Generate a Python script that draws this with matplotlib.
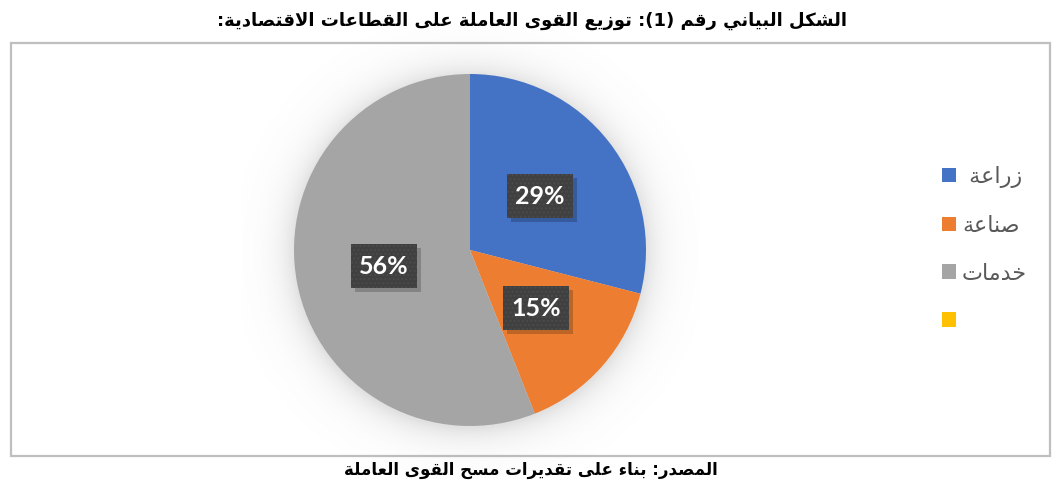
import numpy as np
import matplotlib
matplotlib.use("Agg")
import matplotlib.pyplot as plt
from matplotlib.patches import Rectangle

# ---- data -------------------------------------------------------------
sectors = ["زراعة ", "صناعة", "خدمات", ""]
shares = [29, 15, 56, 0]
colors = ["#4472C4", "#ED7D31", "#A5A5A5", "#FFC000"]
title_text = "الشكل البياني رقم (1): توزيع القوى العاملة على القطاعات الاقتصادية:"
source_text = "المصدر: بناء على تقديرات مسح القوى العاملة"

# ---- minimal Arabic shaping + right-to-left ordering --------------------
_DUAL = {'ئ': 0xFE89, 'ب': 0xFE8F, 'ت': 0xFE95, 'ث': 0xFE99, 'ج': 0xFE9D,
         'ح': 0xFEA1, 'خ': 0xFEA5, 'س': 0xFEB1, 'ش': 0xFEB5, 'ص': 0xFEB9,
         'ض': 0xFEBD, 'ط': 0xFEC1, 'ظ': 0xFEC5, 'ع': 0xFEC9, 'غ': 0xFECD,
         'ف': 0xFED1, 'ق': 0xFED5, 'ك': 0xFED9, 'ل': 0xFEDD, 'م': 0xFEE1,
         'ن': 0xFEE5, 'ه': 0xFEE9, 'ي': 0xFEF1}
_RIGHT = {'آ': 0xFE81, 'أ': 0xFE83, 'ؤ': 0xFE85, 'إ': 0xFE87, 'ا': 0xFE8D,
          'ة': 0xFE93, 'د': 0xFEA9, 'ذ': 0xFEAB, 'ر': 0xFEAD, 'ز': 0xFEAF,
          'و': 0xFEED, 'ى': 0xFEEF}
_NONE = {'ء': 0xFE80}
_LAMALEF = {'ا': 0xFEFB, 'أ': 0xFEF7, 'إ': 0xFEF9, 'آ': 0xFEF5}
_MIRROR = {'(': ')', ')': '(', '[': ']', ']': '['}


def _jtype(tok):
    if tok in _DUAL:
        return 'D'
    if tok in _RIGHT or tok.startswith('LA'):
        return 'R'
    if tok in _NONE:
        return 'N'
    return 'U'


def arabic(text):
    toks = []
    i = 0
    while i < len(text):
        c = text[i]
        if c == 'ل' and i + 1 < len(text) and text[i + 1] in _LAMALEF:
            toks.append('LA' + text[i + 1])
            i += 2
            continue
        toks.append(c)
        i += 1
    out = []
    for k, t in enumerate(toks):
        jt = _jtype(t)
        prev_t = _jtype(toks[k - 1]) if k > 0 else 'U'
        next_t = _jtype(toks[k + 1]) if k + 1 < len(toks) else 'U'
        jp = prev_t == 'D' and jt in 'DR'
        jn = jt == 'D' and next_t in 'DR'
        if t.startswith('LA'):
            out.append(chr(_LAMALEF[t[2]] + (1 if jp else 0)))
        elif jt == 'D':
            off = 3 if (jp and jn) else 1 if jp else 2 if jn else 0
            out.append(chr(_DUAL[t] + off))
        elif jt == 'R':
            out.append(chr(_RIGHT[t] + (1 if jp else 0)))
        elif jt == 'N':
            out.append(chr(_NONE[t]))
        else:
            out.append(t)
    return ''.join(_MIRROR.get(c, c) for c in reversed(out))


# ---- figure -----------------------------------------------------------
W, H, DPI = 1057, 493, 100
fig = plt.figure(figsize=(W / DPI, H / DPI), dpi=DPI, facecolor="white")

# chart frame
fig.add_artist(Rectangle((11 / W, (H - 456) / H), 1039 / W, 413 / H,
                         transform=fig.transFigure, facecolor="white",
                         edgecolor="#BFBFBF", linewidth=1.6, zorder=0))

# pie axes: centre (470, 250) px, radius 176 px
R = 176
cx, cy = 470, 250
lim = 1.3
side = 2 * lim * R
ax = fig.add_axes([(cx - side / 2) / W, (H - cy - side / 2) / H, side / W, side / H])

# soft shadow around the pie
g = np.linspace(-lim, lim, 500)
gx, gy = np.meshgrid(g, g)
rr = np.hypot(gx, gy + 0.01)
alpha = np.where(rr >= 1.0, 0.2 * np.exp(-(rr - 1.0) / 0.09), 0.2)
halo = np.zeros((500, 500, 4))
halo[..., :3] = 0.4
halo[..., 3] = alpha
ax.imshow(halo, extent=(-lim, lim, -lim, lim), origin="lower", zorder=0,
          interpolation="bilinear")

wedges, _, autotexts = ax.pie(
    shares, colors=colors, startangle=90, counterclock=False, radius=1.0,
    autopct=lambda p: f"{p:.0f}%" if p > 0 else "", pctdistance=0.5,
    wedgeprops=dict(linewidth=0), textprops=dict(color="white", fontsize=18,
                                                 fontweight="bold", family="Lato"))
for w in wedges:
    w.set_zorder(2)
ax.set_xlim(-lim, lim)
ax.set_ylim(-lim, lim)
ax.set_aspect("equal")
ax.axis("off")

# dark label boxes with a drop shadow, sized in pixels around each label
fig.canvas.draw()
BW, BH = 66, 44
for t in autotexts:
    if not t.get_text():
        t.set_visible(False)
        continue
    px, py = ax.transData.transform(t.get_position())
    fig.add_artist(Rectangle((px - BW / 2 + 4, py - BH / 2 - 4), BW, BH,
                             transform=None, facecolor="black", alpha=0.2,
                             edgecolor="none", zorder=4))
    fig.add_artist(Rectangle((px - BW / 2, py - BH / 2), BW, BH, transform=None,
                             facecolor="#404040", edgecolor="#4B4B4B", linewidth=0,
                             hatch="....", zorder=5))
    t.remove()
    fig.text(px / W, py / H, t.get_text(), ha="center", va="center",
             fontsize=18, fontweight="bold", family="Lato", color="white",
             zorder=6)

# legend
leg = fig.legend(wedges, [arabic(s) for s in sectors],
                 loc="upper left", bbox_to_anchor=(942 / W, (H - 166) / H),
                 frameon=False, handlelength=0.63, handleheight=0.63,
                 handletextpad=0.27, labelspacing=1.25, borderaxespad=0,
                 borderpad=0, prop=dict(family="DejaVu Sans", size=16))
for txt in leg.get_texts():
    txt.set_color("#595959")

# title and source line
fig.text(532 / W, (H - 21) / H, arabic(title_text), ha="center", va="center",
         fontsize=13, fontweight="bold", family="DejaVu Sans", color="black")
fig.text(531 / W, (H - 470) / H, arabic(source_text), ha="center", va="center",
         fontsize=12, fontweight="bold", family="DejaVu Sans", color="black")

fig.savefig("out.png", dpi=DPI, facecolor="white")
